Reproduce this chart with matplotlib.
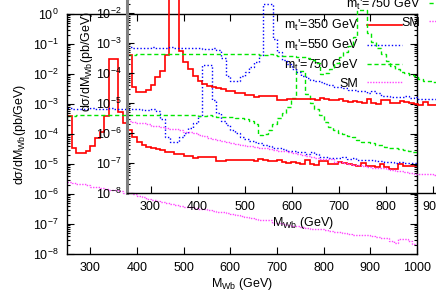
import matplotlib
matplotlib.use('Agg')
import matplotlib.pyplot as plt
import matplotlib.ticker as ticker
import numpy as np

plt.rcParams['font.family'] = ['Liberation Sans', 'DejaVu Sans']
plt.rcParams['mathtext.fontset'] = 'custom'
plt.rcParams['mathtext.rm'] = 'Liberation Sans'
plt.rcParams['mathtext.it'] = 'Liberation Sans:italic'
plt.rcParams['mathtext.bf'] = 'Liberation Sans:bold'
plt.rcParams['font.size'] = 9

# M_Wb bins, 10 GeV wide, from 250 to 1000 GeV
bin_edges = np.arange(250, 1001, 10)

# log10 of dsigma/dM_Wb (pb/GeV), one value per bin
red_350 = [-3.40, -4.47, -4.63, -4.63, -4.57, -4.40, -4.13, -3.93, -3.40, -1.50,
           -1.50, -3.27, -3.63, -3.87, -4.10, -4.27, -4.37, -4.43, -4.45, -4.50,
           -4.53, -4.60, -4.60, -4.65, -4.67, -4.73, -4.73, -4.80, -4.77, -4.75,
           -4.75, -4.77, -4.90, -4.90, -4.88, -4.87, -4.88, -4.85, -4.87, -4.86,
           -4.90, -4.83, -4.85, -4.90, -4.90, -4.88, -4.92, -4.95, -4.93, -4.97,
           -5.00, -4.85, -5.00, -5.03, -4.90, -4.90, -5.00, -5.00, -4.93, -4.97,
           -5.00, -5.03, -5.05, -4.95, -5.05, -5.05, -5.10, -5.00, -5.10, -5.15,
           -5.17, -5.00, -5.07, -5.07, -5.07]
blue_550 = [-3.13, -3.15, -3.15, -3.17, -3.15, -3.13, -3.15, -3.17, -3.15, -3.13,
            -3.15, -3.17, -3.18, -3.17, -3.15, -3.17, -3.20, -3.20, -3.18, -3.22,
            -3.50, -4.10, -4.27, -4.25, -4.10, -3.95, -3.80, -3.62, -3.40, -1.70,
            -1.70, -2.85, -3.30, -3.55, -3.70, -3.85, -3.98, -4.10, -4.18, -4.23,
            -4.27, -4.30, -4.35, -4.40, -4.45, -4.48, -4.50, -4.55, -4.57, -4.60,
            -4.60, -4.65, -4.60, -4.68, -4.75, -4.78, -4.80, -4.80, -4.80, -4.78,
            -4.82, -4.80, -4.85, -4.85, -4.88, -4.88, -4.90, -4.90, -4.92, -4.92,
            -4.95, -4.93, -4.95, -4.97, -4.97]
green_750 = [-3.40, -3.40, -3.38, -3.37, -3.37, -3.35, -3.37, -3.37, -3.35, -3.35,
             -3.37, -3.37, -3.37, -3.35, -3.37, -3.37, -3.38, -3.37, -3.37, -3.35,
             -3.37, -3.37, -3.38, -3.37, -3.38, -3.37, -3.38, -3.37, -3.40, -3.40,
             -3.38, -3.40, -3.42, -3.42, -3.43, -3.43, -3.45, -3.47, -3.50, -3.55,
             -3.65, -4.03, -4.00, -3.85, -3.65, -3.45, -3.30, -3.10, -2.80, -1.90,
             -1.90, -2.65, -2.95, -3.15, -3.35, -3.60, -3.75, -3.85, -3.95, -4.00,
             -4.05, -4.10, -4.20, -4.27, -4.28, -4.30, -4.35, -4.38, -4.42, -4.45,
             -4.47, -4.50, -4.53, -4.56, -4.60]
sm = [-5.60, -5.62, -5.65, -5.68, -5.70, -5.75, -5.77, -5.80, -5.82, -5.85,
      -5.88, -5.90, -5.95, -5.97, -6.00, -6.05, -6.10, -6.15, -6.20, -6.22,
      -6.25, -6.30, -6.33, -6.37, -6.40, -6.43, -6.43, -6.47, -6.50, -6.50,
      -6.53, -6.57, -6.60, -6.60, -6.63, -6.67, -6.70, -6.73, -6.77, -6.80,
      -6.82, -6.85, -6.87, -6.88, -6.95, -6.97, -7.00, -7.02, -7.05, -7.07,
      -7.10, -7.12, -7.15, -7.18, -7.15, -7.20, -7.22, -7.25, -7.28, -7.30,
      -7.32, -7.35, -7.35, -7.38, -7.35, -7.40, -7.42, -7.45, -7.47, -7.55,
      -7.62, -7.50, -7.50, -7.55, -7.68]

labels = ["m$_{\\rm t}$'=350 GeV", "m$_{\\rm t}$'=550 GeV",
          "m$_{\\rm t}$'=750 GeV", "SM"]
series = [red_350, blue_550, green_750, sm]
colors = ['#ff0000', '#0000ff', '#00e600', '#ff44ff']
styles = ['-', (0, (1, 1.5)), (0, (3, 2)), (0, (1, 1))]
widths = [1.2, 1.0, 1.0, 1.0]


def draw(ax):
    for vals, lab, c, ls, lw in zip(series, labels, colors, styles, widths):
        ax.stairs(10 ** np.array(vals), bin_edges, baseline=None,
                  color=c, linestyle=ls, linewidth=lw, label=lab)
    ax.set_yscale('log')
    ax.set_xlim(250, 1000)
    ax.set_ylim(1e-8, 1)
    ax.xaxis.set_major_locator(ticker.MultipleLocator(100))
    ax.yaxis.set_major_locator(ticker.LogLocator(base=10, numticks=20))
    ax.yaxis.set_minor_locator(ticker.LogLocator(base=10, subs=np.arange(2, 10), numticks=20))
    ax.yaxis.set_minor_formatter(ticker.NullFormatter())
    ax.tick_params(which='both', direction='in', top=True, right=True, width=0.8)
    ax.tick_params(which='major', length=5, pad=6)
    ax.tick_params(which='minor', length=2.5)
    ax.set_xlabel('M$_{\\rm Wb}$ (GeV)', labelpad=1)
    ax.set_ylabel('d\u03c3/dM$_{\\rm Wb}$(pb/GeV)')
    ax.patch.set_facecolor('none')
    for s in ax.spines.values():
        s.set_linewidth(1.0)
    ax.legend(loc='upper right', bbox_to_anchor=(0.957, 0.983), frameon=False,
              borderpad=0, borderaxespad=0, handlelength=2.8, handletextpad=0.7,
              labelspacing=0.38, markerfirst=False)


fig = plt.figure(figsize=(4.36, 3.05), dpi=100)
ax_main = fig.add_axes([67 / 436, 51 / 305, 350 / 436, 240 / 305])
draw(ax_main)
ax_main.yaxis.set_label_coords(-0.111, 0.5)

ax_in = fig.add_axes([127 / 436, 112 / 305, 352.5 / 436, 240 / 305])
draw(ax_in)
ax_in.spines['left'].set_color('#808080')
ax_in.spines['left'].set_linewidth(2.2)
ax_in.tick_params(axis='y', pad=4)
ax_in.yaxis.set_label_coords(-0.091, 0.546)

fig.savefig('out.png', dpi=100)
